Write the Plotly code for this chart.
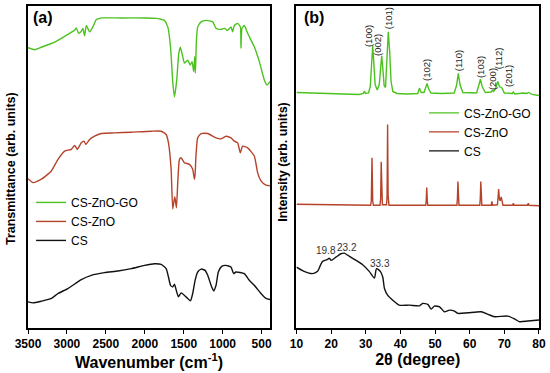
import plotly.graph_objects as go

# ---------------- FTIR data (panel a) ----------------
# wavenumber (cm-1) and transmittance (arb. units, stacked)
ftir_go_wn = [3500, 3414, 3330, 3244, 3150, 3072, 2987, 2935, 2901, 2880, 2850, 2820, 2795, 2773, 2751, 2709, 2660,
              2623, 2581, 2560, 2300, 2000, 1850, 1810, 1748, 1705, 1670, 1640, 1619, 1590, 1564, 1543, 1513, 1491,
              1449, 1418, 1393, 1372, 1359, 1350, 1337, 1320, 1277, 1213, 1128, 1085, 1021, 978, 936, 893, 872,
              850, 808, 773, 765, 752, 722, 679, 594, 529, 465, 431, 392]
ftir_go_t = [283, 281, 283.5, 286, 289, 292.5, 296.5, 299, 300.5, 303, 297.5, 299, 302.5, 295, 305.5, 299, 305,
             311.5, 312.5, 313, 313, 313, 312.5, 312, 310.5, 304, 284, 247.5, 233.5, 250.5, 277, 283.5, 274, 267.5,
             270.5, 265.5, 269, 259, 274, 257.5, 290.5, 304, 309, 310.5, 309, 302.5, 301.5, 302.5, 300.5, 304, 299,
             305.5, 307.5, 304, 282.5, 302.5, 305.5, 297.5, 284, 269, 250.5, 245.5, 249]

ftir_zno_wn = [3500, 3436, 3328, 3200, 3115, 3030, 2944, 2901, 2867, 2816, 2782, 2756, 2709, 2645, 2560, 2389,
               2175, 1918, 1790, 1726, 1696, 1662, 1641, 1615, 1594, 1575, 1555, 1534, 1491, 1427, 1385, 1363,
               1354, 1343, 1321, 1277, 1192, 1085, 1021, 957, 893, 850, 808, 773, 744, 679, 594, 551, 508, 444, 392]
ftir_zno_t = [151.3, 147.3, 150.7, 159, 170.7, 179, 180.7, 184.7, 180.7, 187.3, 189, 185.7, 190.7, 194, 196.7, 197.3,
              198, 199, 199, 195.7, 187.3, 160.7, 120.7, 133, 122, 150, 170.7, 172.3, 167.3, 165.7, 160.7, 150.7,
              155.7, 174, 192.3, 196.7, 196.7, 192.3, 191.3, 194, 192.3, 189, 187.3, 177.3, 184, 182.3, 174, 157.3,
              149, 144.7, 144]

ftir_cs_wn = [3500, 3436, 3328, 3200, 3115, 2987, 2816, 2687, 2517, 2346, 2175, 2004, 1876, 1790, 1726, 1696, 1670,
              1641, 1619, 1590, 1568, 1534, 1470, 1414, 1385, 1354, 1321, 1277, 1226, 1192, 1149, 1115, 1085, 1056,
              1013, 957, 893, 859, 829, 722, 658, 594, 508, 444, 392]
ftir_cs_t = [27.3, 26.3, 28, 30.7, 35.7, 40.7, 49.7, 54, 56.7, 58.3, 60.7, 64, 65.7, 65, 60.7, 52.3, 44, 42.3, 45,
             37.3, 32.3, 36.3, 32.3, 28.3, 35.7, 49, 57.3, 60.3, 59, 54, 44, 38.3, 44, 57.3, 63, 64, 62.3, 55.7,
             57.3, 55.7, 49, 44, 35.7, 30.7, 29.7]

# ---------------- XRD data (panel b) ----------------
xrd_go_2t = [10, 15, 20, 25, 28, 29.3, 29.6, 29.9, 30.8, 31.3, 31.6, 32.0, 32.3, 32.7, 33.3, 33.9, 34.3, 34.6, 34.9,
             35.3, 35.7, 36.1, 36.5, 36.9, 37.3, 37.8, 39, 42, 45, 45.5, 46, 46.8, 47.3, 47.7, 48.1, 48.8, 52, 55.5,
             56.2, 56.7, 57.2, 58, 62, 62.6, 63.1, 63.6, 64.5, 66.2, 66.5, 66.9, 67.5, 68.1, 68.6, 69.3, 70, 72.3,
             72.6, 73, 75.5, 76.5, 77, 78, 80]
xrd_go_i = [238, 237.5, 237, 236.5, 236, 237, 239.5, 237, 237.5, 244, 264, 285, 269, 246, 240.5, 246, 263, 275, 263,
            245, 243, 269, 299, 279, 249, 239, 237, 236.5, 237, 242.3, 238, 238, 243, 247, 242, 237.5, 237, 237.5,
            245, 257.3, 246, 238, 237.5, 245, 251.3, 244, 238, 238.5, 240, 239, 242, 249, 244, 242.5, 237.5, 237,
            238.5, 236.5, 237.5, 237, 238, 236, 235]

xrd_zno_2t = [10, 20, 30, 31.4, 31.6, 31.8, 32.0, 32.2, 34.1, 34.3, 34.45, 34.6, 34.8, 36.0, 36.15, 36.3, 36.45,
              36.7, 47.3, 47.45, 47.6, 47.75, 47.9, 56.3, 56.45, 56.6, 56.75, 56.9, 62.9, 63.05, 63.2, 63.35, 63.5,
              66.2, 66.4, 66.6, 68.0, 68.2, 68.35, 68.55, 68.8, 69.1, 69.3, 69.6, 72.4, 72.6, 72.8, 76.7, 76.9,
              77.1, 80]
xrd_zno_i = [125.5, 125, 124.5, 124.5, 129, 172.3, 129, 124.5, 124.5, 131, 168.3, 131, 125, 125, 134, 205.7, 134,
             124.5, 124.5, 129, 142.3, 129, 124.5, 124.5, 131, 148.3, 131, 124.5, 124.5, 131, 148.3, 131, 124.5,
             124.5, 128.3, 124.5, 125, 133, 140.7, 131, 129, 133, 127, 124.5, 124.5, 126.5, 124.5, 124.5, 126.5,
             124.5, 124]

xrd_cs_2t = [10, 12.2, 14.6, 16.1, 16.9, 17.5, 19.0, 19.5, 20.0, 21.4, 22.8, 23.8, 25.2, 27.2, 29.1, 31.0, 32.5,
             33.1, 34.2, 34.9, 35.4, 36.3, 37.8, 39.7, 42.6, 45.5, 46.4, 47.9, 48.9, 49.8, 51.3, 52.7, 54.2, 55.6,
             56.6, 59.5, 63.3, 65.3, 67.2, 71.0, 73.0, 74.4, 76.8, 80]
xrd_cs_i = [62.3, 58, 55.7, 58, 64, 68, 70, 71.3, 69, 72.3, 75.7, 76.3, 73.3, 69, 64.7, 58, 51.3, 60.7, 58, 52.3,
            40.7, 34, 29, 24, 24, 23.3, 25.7, 24.7, 20, 23, 22.3, 17.3, 19, 18, 15.7, 16.3, 17.3, 14.7, 12.3, 13,
            10, 7.3, 8, 9]

hkl_labels = ["(100)", "(002)", "(101)", "(102)", "(110)", "(103)", "(200)", "(112)", "(201)"]
hkl_x = [31.0, 33.6, 36.8, 47.5, 56.8, 63.1, 66.6, 68.3, 71.2]
hkl_y = [295, 286, 313, 261, 270, 264, 251, 272, 254]

cs_peak_labels = ["19.8", "23.2", "33.3"]
cs_peak_x = [18.4, 24.6, 34.2]
cs_peak_y = [79, 82.3, 65.7]

series_names = ["CS-ZnO-GO", "CS-ZnO", "CS"]
colors = ["#4cc21f", "#b5432b", "#111111"]

FONT = "Arial, Liberation Sans, sans-serif"

fig = go.Figure()

ftir = [(ftir_go_wn, ftir_go_t), (ftir_zno_wn, ftir_zno_t), (ftir_cs_wn, ftir_cs_t)]
xrd = [(xrd_go_2t, xrd_go_i), (xrd_zno_2t, xrd_zno_i), (xrd_cs_2t, xrd_cs_i)]

for (x, y), name, c in zip(ftir, series_names, colors):
    fig.add_trace(go.Scatter(x=x, y=y, mode="lines", name=name,
                             line=dict(color=c, width=1.4, shape="spline", smoothing=0.5),
                             xaxis="x", yaxis="y", legend="legend"))
for (x, y), name, c in zip(xrd, series_names, colors):
    fig.add_trace(go.Scatter(x=x, y=y, mode="lines", name=name,
                             line=dict(color=c, width=1.4, shape="spline" if name == "CS" else "linear", smoothing=0.6),
                             xaxis="x2", yaxis="y2", legend="legend2"))

axis_common = dict(showline=True, linecolor="black", linewidth=1.6, mirror=True, showgrid=False, zeroline=False)

fig.update_layout(
    width=550, height=373,
    margin=dict(l=28, r=10, t=4, b=45),
    paper_bgcolor="white", plot_bgcolor="white",
    font=dict(family=FONT, color="black"),
    xaxis=dict(domain=[0.0, 0.4736], range=[3500, 392], tickvals=[3500, 3000, 2500, 2000, 1500, 1000, 500],
               ticks="outside", ticklen=4, tickwidth=1.4, tickcolor="black",
               tickfont=dict(size=12, family=FONT, weight="bold"),
               title=dict(text="<b>Wavenumber (cm<sup>-1</sup>)</b>", font=dict(size=16), standoff=3),
               **axis_common),
    yaxis=dict(domain=[0, 1], range=[1, 325], showticklabels=False, ticks="", **axis_common),
    xaxis2=dict(domain=[0.5254, 1.0], range=[10, 80], tickvals=[10, 20, 30, 40, 50, 60, 70, 80],
                ticks="outside", ticklen=4, tickwidth=1.4, tickcolor="black",
                tickfont=dict(size=12, family=FONT, weight="bold"),
                title=dict(text="<b>2θ (degree)</b>", font=dict(size=16), standoff=3),
                anchor="y2", **axis_common),
    yaxis2=dict(domain=[0, 1], range=[1, 325], showticklabels=False, ticks="", anchor="x2", **axis_common),
    legend=dict(x=0.006, y=0.435, xanchor="left", yanchor="top", bgcolor="rgba(0,0,0,0)",
                font=dict(size=12, family=FONT), tracegroupgap=0, itemwidth=30),
    legend2=dict(x=0.775, y=0.713, xanchor="left", yanchor="top", bgcolor="rgba(0,0,0,0)",
                 font=dict(size=12, family=FONT), tracegroupgap=0, itemwidth=30),
    showlegend=True,
)

annotations = [
    dict(text="<b>(a)</b>", xref="paper", yref="paper", x=0.029, y=0.965, xanchor="center", yanchor="middle",
         showarrow=False, font=dict(size=16)),
    dict(text="<b>(b)</b>", xref="paper", yref="paper", x=0.5605, y=0.965, xanchor="center", yanchor="middle",
         showarrow=False, font=dict(size=16)),
    dict(text="<b>Transmittance (arb. units)</b>", xref="paper", yref="paper", x=-0.033, y=0.494,
         xanchor="center", yanchor="middle", textangle=-90, showarrow=False, font=dict(size=12.5)),
    dict(text="<b>Intensity (arb. units)</b>", xref="paper", yref="paper", x=0.5, y=0.515,
         xanchor="center", yanchor="middle", textangle=-90, showarrow=False, font=dict(size=12.5)),
]
for t, x, y in zip(hkl_labels, hkl_x, hkl_y):
    annotations.append(dict(text=t, xref="x2", yref="y2", x=x, y=y, xanchor="center", yanchor="middle",
                            textangle=-90, showarrow=False, font=dict(size=9.5, color="#222", family=FONT)))
for t, x, y in zip(cs_peak_labels, cs_peak_x, cs_peak_y):
    annotations.append(dict(text=t, xref="x2", yref="y2", x=x, y=y, xanchor="center", yanchor="middle",
                            showarrow=False, font=dict(size=10, color="#333", family=FONT)))
fig.update_layout(annotations=annotations)

fig.write_html("out.html", config={"displayModeBar": False},
               post_script="document.body.style.margin='0px';")
